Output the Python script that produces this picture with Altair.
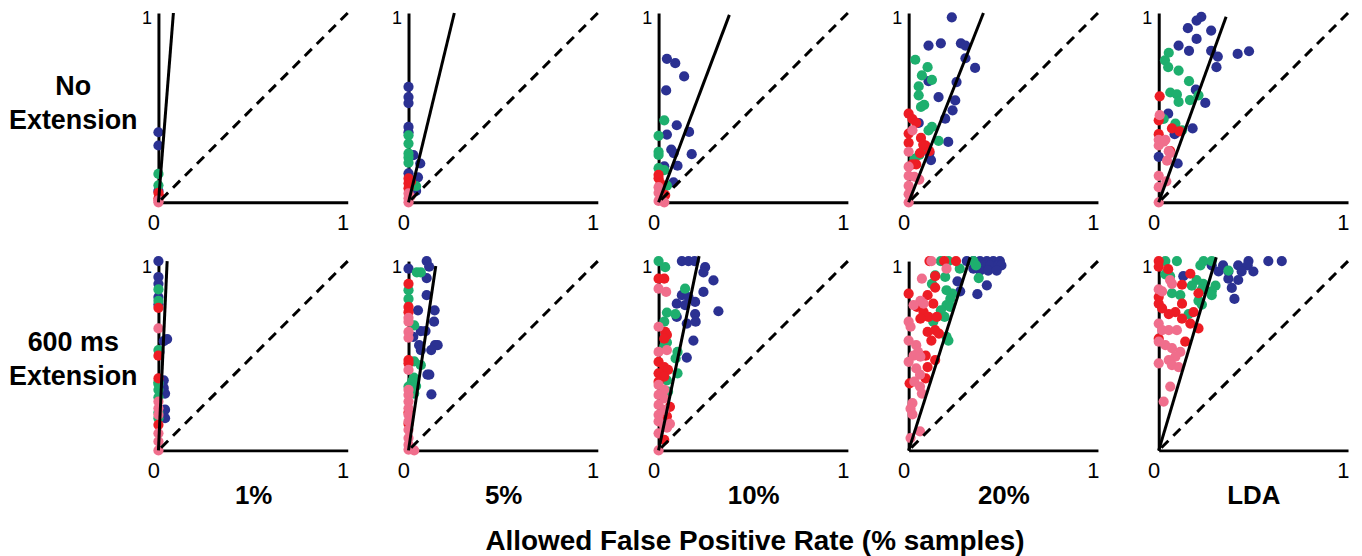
import altair as alt
import pandas as pd

# ---------------- labels ----------------
SERIES = ["blue", "green", "red", "pink"]
SERIES_COLORS = ["#2B3192", "#1EAF6E", "#ED1C24", "#F06E8C"]
ROW_LABELS = [["No", "Extension"], ["600 ms", "Extension"]]
COL_LABELS = ["1%", "5%", "10%", "20%", "LDA"]
X_TITLE = "Allowed False Positive Rate (% samples)"
TICK_VALUES_X = [0, 1]
TICK_VALUES_Y = [1]

# ---------------- data: (x, y) per colour group, per panel ----------------
# Row 1: No Extension
NOEXT_1PCT = {
    "blue": [(0.0, 0.37), (0.0, 0.30), (0.0, 0.06)],
    "green": [(0.0, 0.15), (0.0, 0.09)],
    "red": [(0.0, 0.05), (0.005, 0.03), (0.0, 0.02)],
    "pink": [(0.0, 0.01), (0.0, 0.0)],
}
NOEXT_5PCT = {
    "blue": [(0, 0.61), (0, 0.556), (0, 0.524), (0, 0.398), (0, 0.37), (0.026, 0.249),
             (0.062, 0.205), (0, 0.153), (0.05, 0.132), (0.04, 0.06)],
    "green": [(0, 0.354), (0, 0.31), (0, 0.258), (0, 0.237), (0, 0.209), (0.04, 0.086)],
    "red": [(0, 0.126), (0, 0.1), (0, 0.074), (0.013, 0.11)],
    "pink": [(0, 0.047), (0, 0.021), (0, 0.0), (0.01, 0.03)],
}
NOEXT_10PCT = {
    "blue": [(0.044, 0.758), (0.088, 0.735), (0.135, 0.665), (0.04, 0.591), (0.096, 0.407),
             (0.161, 0.372), (0.044, 0.358), (0.067, 0.279), (0.08, 0.26), (0.175, 0.254),
             (0.10, 0.193), (0.03, 0.19), (0.079, 0.105)],
    "green": [(0.03, 0.433), (0.0, 0.351), (0.0, 0.267), (0.0, 0.25), (0.0, 0.18),
              (0.03, 0.17), (0.044, 0.088)],
    "red": [(0, 0.145), (0, 0.127), (0.01, 0.10), (0.01, 0.06), (0.035, 0.038)],
    "pink": [(0, 0.08), (0, 0.05), (0, 0.007), (0.03, 0.0)],
}
NOEXT_20PCT = {
    "blue": [(0.228, 0.977), (0.105, 0.828), (0.17, 0.84), (0.276, 0.84), (0.30, 0.828),
             (0.30, 0.761), (0.351, 0.71), (0.253, 0.635), (0.105, 0.64), (0.158, 0.556),
             (0.246, 0.538), (0.232, 0.486), (0.193, 0.442), (0.053, 0.419), (0.209, 0.319),
             (0.118, 0.223), (0.11, 0.26)],
    "green": [(0.035, 0.753), (0.10, 0.714), (0.07, 0.67), (0.123, 0.647), (0.053, 0.612),
              (0.053, 0.565), (0.065, 0.504), (0.082, 0.515), (0.123, 0.398), (0.105, 0.38),
              (0.158, 0.325), (0.082, 0.29), (0.056, 0.25), (0.03, 0.23)],
    "red": [(0, 0.468), (0.02, 0.44), (0.04, 0.42), (0, 0.363), (0, 0.314), (0.065, 0.34),
            (0.077, 0.305), (0.09, 0.30), (0.06, 0.26), (0.11, 0.27), (0.04, 0.20), (0.02, 0.2)],
    "pink": [(0.02, 0.38), (0, 0.267), (0, 0.188), (0, 0.14), (0.03, 0.135), (0.056, 0.12),
             (0, 0.087), (0, 0.043), (0, 0.0)],
}
NOEXT_LDA = {
    "blue": [(0.225, 0.98), (0.20, 0.96), (0.154, 0.92), (0.277, 0.907), (0.20, 0.863),
             (0.105, 0.828), (0.16, 0.80), (0.277, 0.80), (0.312, 0.77), (0.417, 0.784),
             (0.477, 0.798), (0.305, 0.714), (0.196, 0.595), (0.246, 0.525), (0.05, 0.468),
             (0.179, 0.39), (0.084, 0.36), (0.0, 0.24), (0.10, 0.205)],
    "green": [(0.053, 0.79), (0.033, 0.75), (0.05, 0.714), (0.105, 0.696), (0.16, 0.64),
              (0.061, 0.58), (0.096, 0.57), (0.105, 0.53), (0.165, 0.54), (0.21, 0.565),
              (0.026, 0.44), (0.088, 0.416), (0.123, 0.38)],
    "red": [(0.005, 0.56), (0, 0.433), (0, 0.36), (0.07, 0.39), (0.11, 0.375), (0.061, 0.27)],
    "pink": [(0.005, 0.46), (0, 0.33), (0, 0.30), (0.026, 0.32), (0.053, 0.27), (0.035, 0.33),
             (0.044, 0.22), (0.06, 0.26), (0, 0.14), (0, 0.08), (0.04, 0.11), (0, 0.0)],
}

# Row 2: 600 ms Extension
EXT_1PCT = {
    "blue": [(0, 1.0), (0, 0.916), (0, 0.88), (0, 0.81), (0, 0.77), (0.046, 0.588),
             (0.028, 0.577), (0.005, 0.52), (0.028, 0.37), (0.028, 0.33), (0.035, 0.30),
             (0.035, 0.215), (0.035, 0.17)],
    "green": [(0, 0.85), (0, 0.79), (0, 0.53), (0, 0.36), (0, 0.35), (0, 0.32), (0, 0.28),
              (0, 0.17), (0, 0.2)],
    "red": [(0, 0.753), (0, 0.50), (0, 0.38), (0, 0.135)],
    "pink": [(0, 0.644), (0, 0.258), (0, 0.222), (0, 0.188), (0, 0.09), (0, 0.047), (0, 0.0)],
}
EXT_5PCT = {
    "blue": [(0.096, 1.0), (0.109, 0.97), (0, 0.96), (0.096, 0.91), (0.096, 0.82), (0.05, 0.74),
             (0.138, 0.74), (0.135, 0.68), (0.065, 0.63), (0.09, 0.63), (0.025, 0.60),
             (0.056, 0.556), (0.14, 0.556), (0.154, 0.556), (0.065, 0.53), (0.12, 0.53),
             (0.10, 0.40), (0.11, 0.40), (0.121, 0.296)],
    "green": [(0.044, 0.94), (0.065, 0.94), (0, 0.846), (0, 0.80), (0.03, 0.66), (0.03, 0.47),
              (0.065, 0.45), (0.028, 0.384), (0.018, 0.363), (0, 0.337), (0.04, 0.34), (0.03, 0.30)],
    "red": [(0, 0.88), (0, 0.758), (0, 0.73), (0, 0.477), (0, 0.46), (0, 0.2), (0, 0.14)],
    "pink": [(0, 0.70), (0, 0.68), (0, 0.626), (0, 0.595), (0, 0.425), (0, 0.32), (0, 0.293),
             (0, 0.258), (0, 0.222), (0, 0.188), (0, 0.153), (0, 0.109), (0, 0.065), (0, 0.03),
             (0, 0.004), (0.03, 0.0)],
}
EXT_10PCT = {
    "blue": [(0.123, 1.0), (0.158, 1.0), (0.19, 1.0), (0.246, 0.968), (0.237, 0.94), (0.29, 0.898),
             (0.123, 0.82), (0.158, 0.81), (0.237, 0.837), (0.096, 0.775), (0.14, 0.767),
             (0.193, 0.784), (0.316, 0.735), (0.193, 0.72), (0.096, 0.705), (0.149, 0.67),
             (0.196, 0.68), (0.184, 0.58), (0.149, 0.49)],
    "green": [(0, 1.0), (0.035, 0.968), (0.14, 0.854), (0.044, 0.728), (0.089, 0.72), (0.03, 0.68),
              (0.044, 0.57), (0.03, 0.55), (0.10, 0.52), (0.09, 0.486), (0.10, 0.407),
              (0.044, 0.37), (0.05, 0.31)],
    "red": [(0, 0.907), (0.03, 0.907), (0.035, 0.626), (0.044, 0.61), (0.03, 0.59), (0, 0.468),
            (0.03, 0.44), (0.05, 0.425), (0, 0.407), (0.03, 0.39), (0, 0.363), (0.06, 0.23),
            (0.044, 0.18), (0.03, 0.056)],
    "pink": [(0, 0.854), (0.04, 0.837), (0, 0.653), (0, 0.52), (0.044, 0.53), (0, 0.346),
             (0.03, 0.32), (0, 0.293), (0.03, 0.275), (0, 0.24), (0.03, 0.214), (0, 0.188),
             (0, 0.153), (0.03, 0.126), (0, 0.09), (0.044, 0.12), (0.06, 0.14), (0, 0.0)],
}
EXT_20PCT = {
    "blue": [(0.307, 1.0), (0.342, 1.0), (0.377, 1.0), (0.413, 1.0), (0.447, 1.0), (0.482, 1.0),
             (0.395, 0.977), (0.43, 0.977), (0.474, 0.977), (0.49, 0.977), (0.342, 0.96),
             (0.377, 0.95), (0.42, 0.95), (0.465, 0.95), (0.258, 0.893), (0.272, 0.84),
             (0.413, 0.872), (0.363, 0.825)],
    "green": [(0.17, 1.0), (0.21, 1.0), (0.342, 1.0), (0.356, 0.977), (0.27, 0.96), (0.14, 0.925),
              (0.123, 0.88), (0.193, 0.916), (0.37, 0.91), (0.2, 0.846), (0.23, 0.828),
              (0.22, 0.80), (0.2, 0.767), (0.17, 0.74), (0.22, 0.758), (0.13, 0.68),
              (0.19, 0.705), (0.2, 0.6), (0.21, 0.58)],
    "red": [(0.11, 1.0), (0.188, 1.0), (0.25, 1.0), (0.14, 0.92), (0, 0.828), (0.14, 0.86),
            (0.1, 0.82), (0.13, 0.775), (0.044, 0.758), (0.079, 0.73), (0.105, 0.705),
            (0.149, 0.705), (0.062, 0.696), (0.1, 0.626), (0.14, 0.635), (0.16, 0.617),
            (0.12, 0.58), (0.09, 0.5), (0.14, 0.477), (0.1, 0.44), (0.005, 0.354), (0.09, 0.38)],
    "pink": [(0.12, 1.0), (0.2, 0.96), (0.07, 0.907), (0.062, 0.79), (0.079, 0.775), (0.026, 0.767),
             (0, 0.68), (0.01, 0.653), (0, 0.58), (0.04, 0.556), (0.05, 0.52), (0.026, 0.5),
             (0.062, 0.495), (0, 0.468), (0.04, 0.433), (0.06, 0.4), (0.03, 0.363), (0.06, 0.337),
             (0.07, 0.3), (0.02, 0.25), (0.01, 0.22), (0.02, 0.19), (0.06, 0.1), (0.01, 0.065)],
}
EXT_LDA = {
    "blue": [(0.474, 1.0), (0.579, 1.0), (0.65, 1.0), (0.28, 0.977), (0.34, 0.977), (0.42, 0.977),
             (0.47, 0.977), (0.316, 0.945), (0.368, 0.945), (0.438, 0.945), (0.5, 0.945),
             (0.13, 0.92), (0.368, 0.907), (0.42, 0.9), (0.386, 0.858), (0.4, 0.8)],
    "green": [(0.035, 1.0), (0.096, 1.0), (0.237, 1.0), (0.28, 1.0), (0.22, 0.977), (0.368, 0.95),
              (0.035, 0.93), (0.06, 0.92), (0.2, 0.9), (0.235, 0.88), (0.3, 0.87), (0.175, 0.87),
              (0.228, 0.85), (0.28, 0.84), (0.07, 0.83), (0.114, 0.82), (0.28, 0.82),
              (0.21, 0.79), (0.228, 0.77), (0.158, 0.72)],
    "red": [(0, 1.0), (0, 0.97), (0.05, 0.957), (0.167, 0.933), (0.123, 0.875), (0.21, 0.83),
            (0, 0.81), (0, 0.775), (0.018, 0.75), (0.123, 0.775), (0.184, 0.73), (0.088, 0.73),
            (0.053, 0.72), (0.123, 0.696), (0.167, 0.67), (0.21, 0.644), (0.14, 0.574), (0, 0.59)],
    "pink": [(0.06, 0.9), (0.07, 0.88), (0, 0.85), (0.018, 0.84), (0, 0.67), (0.018, 0.635),
             (0.053, 0.635), (0.096, 0.635), (0, 0.574), (0.035, 0.556), (0.07, 0.54),
             (0.114, 0.52), (0.088, 0.495), (0.053, 0.477), (0, 0.46), (0.07, 0.45),
             (0.105, 0.44), (0.061, 0.337), (0.026, 0.258)],
}

PANELS = [
    [NOEXT_1PCT, NOEXT_5PCT, NOEXT_10PCT, NOEXT_20PCT, NOEXT_LDA],
    [EXT_1PCT, EXT_5PCT, EXT_10PCT, EXT_20PCT, EXT_LDA],
]

# upper end of the solid fitted line in each panel (line starts at the origin)
FIT_TOP_X = [[0.079, 0.242, 0.374, 0.395, 0.356],
             [0.046, 0.144, 0.214, 0.325, 0.304]]
FIT_TOP_Y = [[1.0, 1.0, 0.99, 1.0, 0.98],
             [1.0, 0.974, 1.026, 1.02, 1.02]]

# chance diagonal
DIAG_X = [1, 0]
DIAG_Y = [1, 0]

BOLD_FONT = "Liberation Sans"
TICK_FONT = "Liberation Sans"


def make_panel(row, col):
    pts = PANELS[row][col]
    recs = []
    for s in SERIES:
        for xv, yv in pts[s]:
            recs.append({"x": xv, "y": yv, "s": s})
    df = pd.DataFrame(recs)

    x_kw = dict(values=TICK_VALUES_X, format="d")
    if row == 1:
        x_kw.update(title=COL_LABELS[col], titleX=95, titleY=45)
    else:
        x_kw.update(title=None)

    y_kw = dict(values=TICK_VALUES_Y, format="d")
    if col == 0:
        y_kw.update(title=ROW_LABELS[row], titleAngle=0, titleAlign="center",
                    titleBaseline="middle", titleX=-86, titleY=[74, 82][row],
                    titleFontSize=27, titleLineHeight=34)
    else:
        y_kw.update(title=None)

    X = alt.X("x:Q", scale=alt.Scale(domain=[0, 1], nice=False), axis=alt.Axis(**x_kw))
    Y = alt.Y("y:Q", scale=alt.Scale(domain=[0, 1], nice=False), axis=alt.Axis(**y_kw))

    points = alt.Chart(df).mark_circle(size=105, opacity=1).encode(
        x=X, y=Y,
        color=alt.Color("s:N", scale=alt.Scale(domain=SERIES, range=SERIES_COLORS), legend=None),
    )
    diag_df = pd.DataFrame({"x": DIAG_X, "y": DIAG_Y, "o": list(range(len(DIAG_X)))})
    diag = alt.Chart(diag_df).mark_line(color="black", strokeWidth=3, strokeDash=[10, 7]).encode(
        x=X, y=Y, order=alt.Order("o:Q"))
    fit_df = pd.DataFrame({"x": [0, FIT_TOP_X[row][col]], "y": [0, FIT_TOP_Y[row][col]]})
    fit = alt.Chart(fit_df).mark_line(color="black", strokeWidth=3).encode(x=X, y=Y)

    return alt.layer(points, diag, fit).properties(width=190, height=190)


panels = [make_panel(r, c) for r in range(2) for c in range(5)]

chart = alt.concat(
    *panels, columns=5, spacing={"row": 59, "column": 61}, bounds="flush"
).properties(
    title=alt.TitleParams(X_TITLE, orient="bottom", anchor="middle", fontSize=28,
                          fontWeight="bold", font=BOLD_FONT, color="black", dx=74, offset=20),
    padding={"left": 0, "top": -2, "right": 0, "bottom": 0},
).configure_view(
    stroke=None
).configure_axis(
    ticks=False, grid=False, domainColor="black", domainWidth=3,
    labelFont=TICK_FONT, labelColor="black",
    titleFont=BOLD_FONT, titleFontWeight="bold", titleColor="black",
).configure_axisX(
    labelFontSize=22, labelPadding=10, labelAlign="right", labelOffset=1, labelBaseline="top",
    titleFontSize=26, titleBaseline="middle", titleAlign="center",
).configure_axisY(
    labelFontSize=18, labelPadding=7, labelBaseline="middle", labelOffset=6,
)

chart.save("out.html", embed_options={"renderer": "svg", "actions": False})
